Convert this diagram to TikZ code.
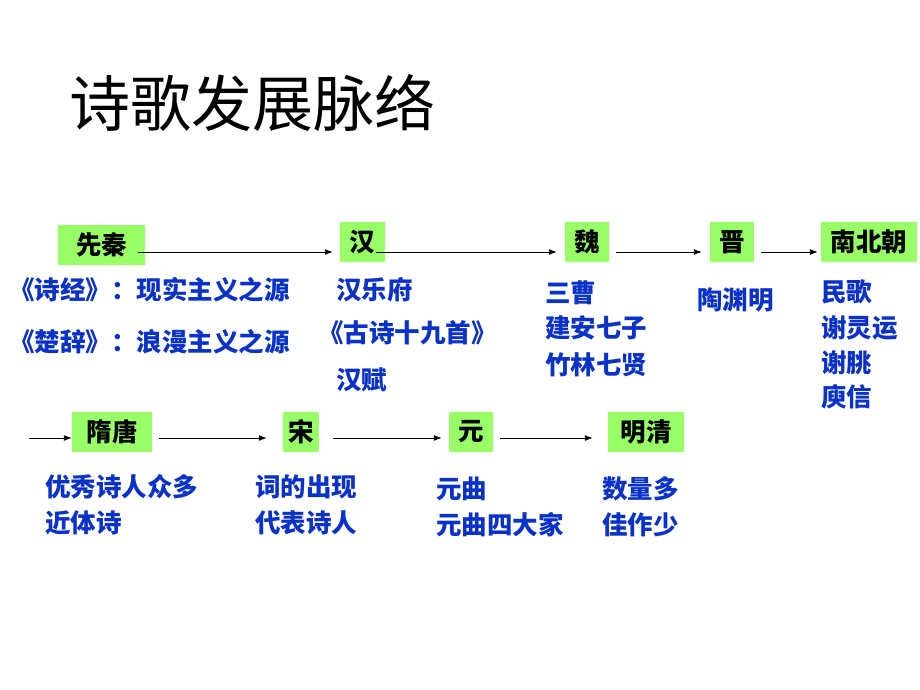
\documentclass[tikz,border=0pt]{standalone}
\usepackage{fontspec}
\newfontfamily\cjk{Noto Sans CJK SC}
\usetikzlibrary{arrows.meta}
\definecolor{boxgreen}{RGB}{153,255,102}
\definecolor{txtblue}{RGB}{10,50,200}
\tikzset{
  era/.style={fill=boxgreen, draw=none, inner sep=0pt, font=\cjk\bfseries\fontsize{25.5}{30}\selectfont, text=black},
  note/.style={anchor=west, inner sep=0pt, font=\cjk\bfseries\fontsize{25.5}{30}\selectfont, text=txtblue},
  arr/.style={draw=black, line width=0.9pt, -{Latex[length=8pt,width=6pt]}}
}
\begin{document}
\begin{tikzpicture}[x=1pt,y=-1pt]
\path[use as bounding box, fill=white] (0,0) rectangle (920,690);
% title
\node[anchor=west, inner sep=0pt, font=\cjk\fontsize{61}{66}\selectfont] (title) at (69,103) {诗歌发展脉络};
% top row boxes
\node[era, minimum width=87, minimum height=40] (xq) at (101.5,245) {先秦};
\node[era, minimum width=45, minimum height=40] (han) at (362.5,242) {汉};
\node[era, minimum width=44, minimum height=40] (wei) at (587,242) {魏};
\node[era, minimum width=44, minimum height=40] (jin) at (732,242) {晋};
\node[era, minimum width=96, minimum height=40] (nbc) at (869,242) {南北朝};
% bottom row boxes
\node[era, minimum width=80, minimum height=40] (st) at (112,432) {隋唐};
\node[era, minimum width=36, minimum height=40] (song) at (301,432) {宋};
\node[era, minimum width=44, minimum height=40] (yuan) at (471,432) {元};
\node[era, minimum width=76, minimum height=40] (mq) at (646,432) {明清};
\coordinate (cont) at (29,438);
% arrows
\draw[arr] ([shift={(-7,7)}]xq.east) -- ([shift={(-7,10)}]han.west);
\draw[arr] ([shift={(-9,10)}]han.east) -- ([shift={(-8,10)}]wei.west);
\draw[arr] ([shift={(7,10)}]wei.east) -- ([shift={(-8,10)}]jin.west);
\draw[arr] ([shift={(7,10)}]jin.east) -- ([shift={(-3,10)}]nbc.west);
\draw[arr] (cont) -- ([shift={(0,6)}]st.west);
\draw[arr] ([shift={(7,6)}]st.east) -- ([shift={(-16,6)}]song.west);
\draw[arr] ([shift={(14,6)}]song.east) -- ([shift={(-7,6)}]yuan.west);
\draw[arr] ([shift={(7,6)}]yuan.east) -- ([shift={(-15,6)}]mq.west);
% notes top
\node[note] (n1) at (9,290) {《诗经》：现实主义之源};
\node[note] (n2) at (9,342) {《楚辞》：浪漫主义之源};
\node[note] (n3) at (336,290) {汉乐府};
\node[note] (n4) at (318,333) {《古诗十九首》};
\node[note] (n5) at (336,380) {汉赋};
\node[note] (n6) at (545,293) {三曹};
\node[note] (n7) at (545,328) {建安七子};
\node[note] (n8) at (545,365) {竹林七贤};
\node[note] (n9) at (697,300) {陶渊明};
\node[note] (n10) at (821,292) {民歌};
\node[note] (n11) at (821,328) {谢灵运};
\node[note] (n12) at (821,363) {谢朓};
\node[note] (n13) at (821,397) {庾信};
% notes bottom
\node[note] (m1) at (45,487) {优秀诗人众多};
\node[note] (m2) at (45,523) {近体诗};
\node[note] (m3) at (255,487) {词的出现};
\node[note] (m4) at (255,523) {代表诗人};
\node[note] (m5) at (436,489) {元曲};
\node[note] (m6) at (436,525) {元曲四大家};
\node[note] (m7) at (602,489) {数量多};
\node[note] (m8) at (602,525) {佳作少};
\end{tikzpicture}
\end{document}
